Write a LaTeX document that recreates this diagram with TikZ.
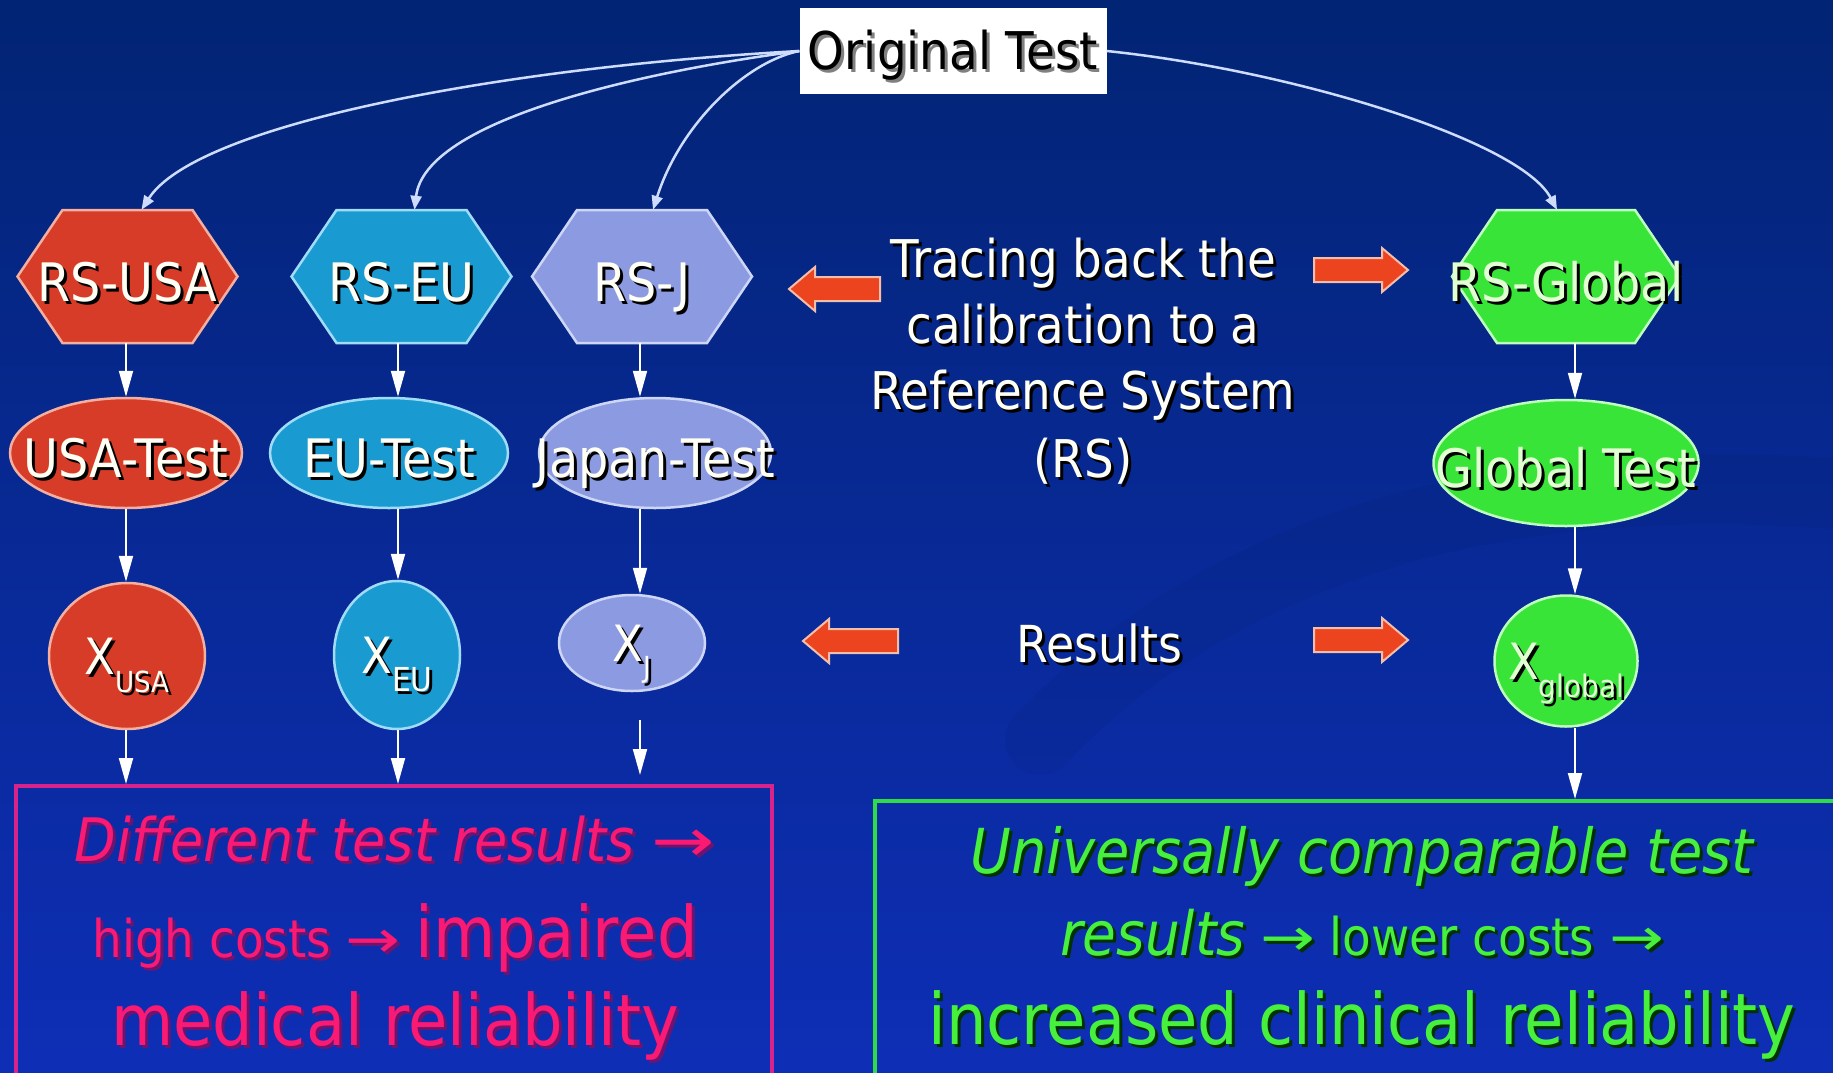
\documentclass[tikz,border=0pt]{standalone}
\usepackage{fontspec}
\setmainfont[FakeStretch=0.9]{DejaVu Sans}
\usepackage{graphicx}
\usetikzlibrary{arrows.meta,shapes.geometric,calc}

\definecolor{bgtop}{RGB}{2,36,116}
\definecolor{bgmid}{RGB}{12,48,164}
\definecolor{bgbot}{RGB}{14,46,182}
\definecolor{usafill}{RGB}{214,60,40}
\definecolor{usaline}{RGB}{245,175,160}
\definecolor{eufill}{RGB}{25,155,210}
\definecolor{euline}{RGB}{160,220,245}
\definecolor{jfill}{RGB}{140,155,225}
\definecolor{jline}{RGB}{205,215,245}
\definecolor{gfill}{RGB}{55,228,55}
\definecolor{gline}{RGB}{190,255,190}
\definecolor{curvec}{RGB}{205,220,255}
\definecolor{blkfill}{RGB}{235,68,30}
\definecolor{blkline}{RGB}{245,190,170}
\definecolor{pinkbox}{RGB}{215,35,140}
\definecolor{pinktxt}{RGB}{250,25,115}
\definecolor{pinksh}{RGB}{110,20,110}
\definecolor{greenbox}{RGB}{45,220,70}
\definecolor{greentxt}{RGB}{70,240,60}
\definecolor{greensh}{RGB}{0,50,0}
\definecolor{txtw}{RGB}{255,255,245}
\definecolor{gtxt}{RGB}{225,255,210}

\newcommand{\sh}[2][black]{\makebox[0pt][l]{\kern3pt\raisebox{-3pt}{\textcolor{#1}{#2}}}#2}
\newcommand{\lbl}[2][black]{\makebox[0pt]{\raisebox{-5pt}{\sh[#1]{#2}}}}
\newcommand{\clbl}[2][black]{\makebox[0pt]{\sh[#1]{#2}}}
\newcommand{\rarr}{\scalebox{1.4}[1]{→}}
\newcommand{\fs}[1]{\fontsize{#1}{#1}\selectfont}

% name, cx, cy, halfwidth, fill, draw, text, textcolor
\newcommand{\hexat}[8]{%
  \filldraw[hexsty, fill=#5, draw=#6] (#2-#4,#3) -- (#2-#4+45,#3+66.5) -- (#2+#4-45,#3+66.5) -- (#2+#4,#3) -- (#2+#4-45,#3-66.5) -- (#2-#4+45,#3-66.5) -- cycle;
  \node[hexnode, minimum width=2*#4, text=#8] (#1) at (#2,#3) {\lbl{#7}};}
% block arrows: x-left, x-right, y-centre
\newcommand{\blkR}[3]{\filldraw[blk] (#1,#3+12) -- (#2-26,#3+12) -- (#2-26,#3+22) -- (#2,#3) -- (#2-26,#3-22) -- (#2-26,#3-12) -- (#1,#3-12) -- cycle;}
\newcommand{\blkL}[3]{\filldraw[blk] (#2,#3+12) -- (#1+26,#3+12) -- (#1+26,#3+22) -- (#1,#3) -- (#1+26,#3-22) -- (#1+26,#3-12) -- (#2,#3-12) -- cycle;}

\tikzset{
  hexsty/.style={line width=2.5pt},
  hexnode/.style={inner sep=0pt, minimum height=133pt, text height=39pt, text depth=0pt, font=\fs{53}},
  testell/.style={ellipse, inner sep=0pt, line width=2.5pt, text height=39pt, text depth=0pt, font=\fs{53}},
  xell/.style={ellipse, inner sep=0pt, line width=2.5pt, text height=36pt, text depth=0pt, font=\fs{50}},
  varr/.style={draw=white, line width=2pt, -{Triangle[length=26pt, width=14pt]}},
  carr/.style={draw=curvec, line width=2.5pt, -{Triangle[length=14pt, width=11pt]}},
  blk/.style={fill=blkfill, draw=blkline, line width=2pt},
  ctext/.style={anchor=base, text=txtw, inner sep=0pt},
  ptext/.style={anchor=base, text=pinktxt, inner sep=0pt},
  gtext/.style={anchor=base, text=greentxt, inner sep=0pt},
}

\begin{document}
\begin{tikzpicture}[x=1pt, y=1pt]
\useasboundingbox (0,0) rectangle (1833,-1073);
\clip (0,0) rectangle (1833,-1073);
\shade[top color=bgtop, middle color=bgmid, bottom color=bgbot] (0,0) rectangle (1833,-1073);
\draw[line width=70pt, color=black, opacity=0.04, line cap=round] (1040,-740) .. controls (1250,-520) and (1550,-470) .. (1850,-495);

% column guides
\coordinate (cU) at (126,0);
\coordinate (cE) at (398,0);
\coordinate (cJ) at (640,0);
\coordinate (cG) at (1575,0);

% Original test
\node[fill=white, minimum width=307pt, minimum height=85pt, inner sep=0pt, text height=38pt, text depth=0pt, font=\fs{52}, text=black] (OT) at (953,-51) {\clbl[gray]{Original Test}};

% hexagons
\hexat{RSUSA}{127.5}{-276.5}{110}{usafill}{usaline}{RS-USA}{txtw}
\hexat{RSEU}{401.5}{-276.5}{110}{eufill}{euline}{RS-EU}{txtw}
\hexat{RSJ}{642}{-276.5}{110}{jfill}{jline}{RS-J}{txtw}
\hexat{RSG}{1566}{-276.5}{114}{gfill}{gline}{RS-Global}{gtxt}

% test ellipses
\node[testell, fill=usafill, draw=usaline, minimum width=232pt, minimum height=110pt, text=txtw] (UT) at (126,-453) {\lbl{USA-Test}};
\node[testell, fill=eufill, draw=euline, minimum width=238pt, minimum height=110pt, text=txtw] (ET) at (389,-453) {\lbl{EU-Test}};
\node[testell, fill=jfill, draw=jline, minimum width=232pt, minimum height=110pt, text=txtw] (JT) at (655,-453) {\lbl{Japan-Test}};
\node[testell, fill=gfill, draw=gline, minimum width=265pt, minimum height=126pt, text=gtxt] (GT) at (1566,-463) {\lbl{Global Test}};

% result circles
\node[xell, fill=usafill, draw=usaline, minimum width=156pt, minimum height=146pt, text=txtw] (XU) at (127,-656) {\clbl{X\raisebox{-18pt}{\fs{29}USA}}};
\node[xell, fill=eufill, draw=euline, minimum width=126pt, minimum height=148pt, text=txtw] (XE) at (397,-655) {\clbl{X\raisebox{-18pt}{\fs{33}EU}}};
\node[xell, fill=jfill, draw=jline, minimum width=146pt, minimum height=96pt, text=txtw] (XJ) at (632,-643) {\clbl{X\raisebox{-16pt}{\fs{29}J}}};
\node[xell, fill=gfill, draw=gline, minimum width=143pt, minimum height=131pt, text=gtxt] (XG) at (1566,-661) {\clbl{X\raisebox{-18pt}{\fs{31}global}}};

% outcome boxes
\node[draw=pinkbox, line width=4pt, minimum width=756pt, minimum height=314pt, inner sep=0pt] (LB) at (394,-943) {};
\node[draw=greenbox, line width=4pt, minimum width=975pt, minimum height=300pt, inner sep=0pt] (RB) at (1362,-951) {};

% curved arrows
\draw[carr] (OT.west) .. controls (495,-68) and (196,-125) .. ($(RSUSA.north)+(14,0)$);
\draw[carr] (OT.west) .. controls (640,-72) and (425,-120) .. ($(RSEU.north)+(13,0)$);
\draw[carr] (OT.west) .. controls (745,-62) and (680,-125) .. ($(RSJ.north)+(11,0)$);
\draw[carr] (OT.east) .. controls (1290,-70) and (1520,-140) .. ($(RSG.north)+(-9,0)$);

% vertical arrows
\draw[varr] (RSUSA.south -| cU) -- (UT.north -| cU);
\draw[varr] (UT.south -| cU) -- (XU.north -| cU);
\draw[varr] (XU.south -| cU) -- (LB.north -| cU);
\draw[varr] (RSEU.south -| cE) -- (ET.north -| cE);
\draw[varr] (ET.south -| cE) -- (XE.north -| cE);
\draw[varr] (XE.south -| cE) -- (LB.north -| cE);
\draw[varr] (RSJ.south -| cJ) -- (JT.north -| cJ);
\draw[varr] (JT.south -| cJ) -- (XJ.north -| cJ);
\draw[varr, shorten <=28pt] (XJ.south -| cJ) -- ($(LB.north -| cJ)+(0,9)$);
\draw[varr] (RSG.south -| cG) -- (GT.north -| cG);
\draw[varr] (GT.south -| cG) -- (XG.north -| cG);
\draw[varr] (XG.south -| cG) -- (RB.north -| cG);

% block arrows
\blkL{789}{880}{-289}
\blkR{1314}{1408}{-270}
\blkL{803}{898}{-641}
\blkR{1314}{1408}{-640}

% central texts
\node[ctext, font=\fs{52}] (tr1) at (1083,-277) {\sh{Tracing back the}};
\node[ctext, font=\fs{52}] (tr2) at (1083,-343) {\sh{calibration to a}};
\node[ctext, font=\fs{52}] (tr3) at (1083,-409) {\sh{Reference System}};
\node[ctext, font=\fs{52}] (tr4) at (1083,-477) {\sh{(RS)}};
\node[ctext, font=\fs{51}] (res) at (1099,-662) {\sh{Results}};

% left box texts
\node[ptext, font=\fs{60}] (l1) at (395,-861) {\sh[pinksh]{\itshape Different test results \upshape\rarr}};
\node[ptext, font=\fs{52}] (l2) at (395,-957) {\sh[pinksh]{high costs \rarr{} \fs{71}impaired}};
\node[ptext, font=\fs{71}] (l3) at (395,-1045) {\sh[pinksh]{medical reliability}};

% right box texts
\node[gtext, font=\fs{62}] (r1) at (1362,-873) {\sh[greensh]{\itshape Universally comparable test}};
\node[gtext, font=\fs{52}] (r2) at (1362,-955) {\sh[greensh]{{\fs{61}\itshape results} \rarr{} lower costs \rarr}};
\node[gtext, font=\fs{71}] (r3) at (1362,-1044) {\sh[greensh]{increased clinical reliability}};
\end{tikzpicture}
\end{document}
